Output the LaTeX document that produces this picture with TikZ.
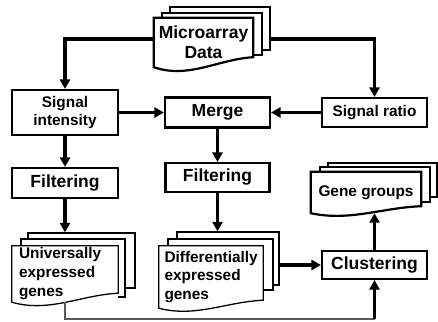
\documentclass[tikz,border=0pt]{standalone}
\usepackage{fontspec}
\setmainfont{Liberation Sans}
\usetikzlibrary{arrows.meta, calc, positioning}
\newcommand{\bigtxt}{\bfseries\fontsize{17.5}{20}\selectfont}
\newcommand{\smalltxt}{\bfseries\fontsize{15.4}{18.5}\selectfont}
\tikzstyle{box} = [rectangle, draw=black, line width=2.1pt, fill=white, text centered, align=center, inner sep=0pt, font=\bigtxt]
\tikzstyle{smallbox} = [box, font=\smalltxt]
\tikzstyle{page} = [rectangle, draw=black, fill=white, line width=1.3pt, inner sep=0pt]
\tikzstyle{boldpage} = [page, line width=2.2pt]
\tikzstyle{docfront} = [rectangle, fill=white, inner sep=0pt, align=left, font=\smalltxt]
\tikzstyle{arrow} = [line width=3.1pt, -{Triangle[length=9.5pt,width=10pt]}]
\tikzstyle{thinline} = [line width=1.1pt, black!65]
% outline of a front page: node, rise of the wavy bottom, line style
\newcommand{\docedge}[3]{%
  \draw[#3] (#1.north west) -- (#1.south west)
    .. controls ($(#1.south west)!0.35!(#1.south east)+(0,{1.2*#2})$)
    and ($(#1.south west)!0.65!(#1.south east)+(0,{-0.8*#2})$)
    .. ($(#1.south east)+(0,-#2)$) -- (#1.north east) -- cycle;}

\begin{document}
\begin{tikzpicture}[x=1pt, y=-1pt, node distance=60pt]
\useasboundingbox (0,0) rectangle (438,321);

% Document stacks
\node (mad3) [boldpage, minimum width=100pt, minimum height=43pt] at (220,28.5) {};
\node (mad2) [boldpage, minimum width=100pt, minimum height=42pt] at (212,34) {};
\node (mad) [docfront, align=center, font=\bigtxt, minimum width=99pt, minimum height=49pt] at (203.5,42.5) {Microarray\\Data};
\docedge{mad}{10}{line width=2.2pt}

\node (gg3) [boldpage, minimum width=109pt, minimum height=34pt] at (382.5,180) {};
\node (gg2) [boldpage, minimum width=110pt, minimum height=35pt] at (375,184.5) {};
\node (gg) [docfront, align=center, minimum width=110pt, minimum height=41pt] at (366,192.5) {Gene groups};
\docedge{gg}{7}{line width=2.2pt}

\node (ued3) [page, minimum width=107pt, minimum height=55pt] at (81.5,260.5) {};
\node (ued2) [page, minimum width=104pt, minimum height=58pt] at (73,268) {};
\node (ued) [docfront, text width=92pt, inner xsep=7pt, minimum height=56pt, font=\bfseries\fontsize{15.4}{19}\selectfont] at (65,274) {Universally\\expressed\\genes};
\docedge{ued}{9}{line width=1.3pt}

\node (ded3) [page, minimum width=102pt, minimum height=53pt] at (228,258.5) {};
\node (ded2) [page, minimum width=105pt, minimum height=51pt] at (220.5,264.5) {};
\node (ded) [docfront, text width=93pt, inner xsep=5.5pt, minimum height=62pt] at (211,277) {Differentially\\expressed\\genes};
\docedge{ded}{8}{line width=1.3pt}

% Process boxes
\node (si) [smallbox, minimum width=106pt, minimum height=45pt] at (65,112.5) {Signal\\intensity};
\node (mg) [box, minimum width=105pt, minimum height=30pt, right of=si, xshift=92.5pt] {Merge};
\node (sr) [smallbox, minimum width=105pt, minimum height=29pt, right of=mg, xshift=97pt] {Signal ratio};
\node (filt1) [box, minimum width=106pt, minimum height=30pt, below of=si, yshift=-10.5pt] {Filtering};
\node (filt2) [box, minimum width=104pt, minimum height=29pt, below of=mg, yshift=-5pt] {Filtering};
\node (clus) [box, minimum width=105pt, minimum height=28pt, below of=sr, yshift=-92.5pt] {Clustering};

% Arrows
\coordinate (madout) at ([yshift=3.5pt]mad.west);
\draw [arrow] (madout) -| (si.north);
\draw [arrow] (madout -| mad3.east) -| (sr.north);
\draw [arrow] (si.east) -- (mg.west);
\draw [arrow] (sr.west) -- (mg.east);
\draw [arrow] (si) -- (filt1);
\draw [arrow] (mg) -- (filt2);
\draw [arrow] (filt1.south) -- (filt1.south |- ued3.north);
\draw [arrow] (filt2.south) -- (filt2.south |- ded3.north);
\draw [arrow] (ded3.east |- clus.west) -- (clus.west);
\draw [arrow] (clus.north) -- (clus.north |- gg.south);

% Loop back from the universal genes
\coordinate (loop) at (374.5,319);
\draw [thinline] (ued.south) |- (loop);
\draw [arrow] (loop) -- (clus.south);

\end{tikzpicture}
\end{document}
